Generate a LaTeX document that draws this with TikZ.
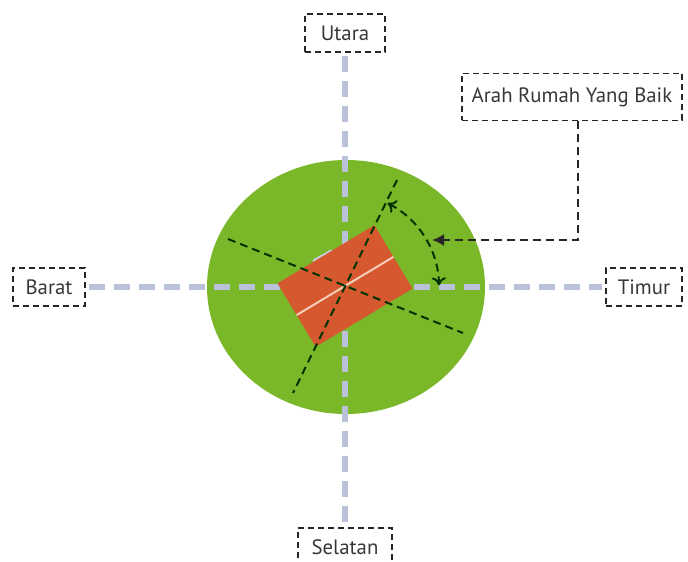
\documentclass[tikz,border=0pt]{standalone}
\usepackage{fontspec}
\setmainfont{PT Sans}
\usetikzlibrary{arrows.meta}

\definecolor{lawn}{RGB}{122,184,42}
\definecolor{roof}{RGB}{214,88,46}
\definecolor{axisblue}{RGB}{186,194,218}
\definecolor{ridge}{RGB}{244,204,184}
\definecolor{labelgray}{RGB}{55,55,55}

\tikzset{
  compass/.style={draw=black!85, dash pattern=on 3pt off 2pt, line width=0.8pt,
    text=labelgray, inner sep=0pt, minimum height=19pt,
    font=\fontsize{10.4}{12}\selectfont},
  axisline/.style={axisblue, line width=2.6pt, dash pattern=on 8pt off 4.5pt},
  guide/.style={black!80!green, line width=1pt, dash pattern=on 4pt off 2.5pt},
}

\begin{document}
\begin{tikzpicture}[x=0.5pt, y=-0.5pt]
\useasboundingbox (0,0) rectangle (688,561);
\clip (0,0) rectangle (688,561);

% ── Compass labels ─────────────────────────────────────────────
\node[compass, minimum width=40pt] (utara)   at (345,33)  {Utara};
\node[compass, minimum width=47pt] (selatan) at (345,547) {Selatan};
\node[compass, minimum width=36pt] (barat)   at (49,287)  {Barat};
\node[compass, minimum width=38pt] (timur)   at (644,287) {Timur};
\node[compass, minimum width=110pt, minimum height=23.5pt] (arah) at (572,97)
  {Arah Rumah Yang Baik};

% ── Plot (green ellipse) ───────────────────────────────────────
\fill[lawn] (346,287) ellipse[x radius=139, y radius=127];

% ── Axes ──────────────────────────────────────────────────────
\draw[axisline] ([yshift=-1.5pt]utara.south) -- ([yshift=2pt]selatan.north);
\draw[axisline] ([xshift=1.5pt]barat.east) -- ([xshift=-1.5pt]timur.west);
\draw[axisblue!80!white, line width=2.2pt, line cap=round] (315,261) -- (331,252);

% ── House (rotated by 31 deg) ──────────────────────────────────
\begin{scope}[rotate around={31:(345,286)}]
  \fill[roof] (288.5,249) rectangle (401.5,323);
  \draw[ridge, line width=1pt] (288.5,286) -- (401.5,286);
\end{scope}

% ── Guide lines through the centre ─────────────────────────────
\coordinate (c) at (345,287);
\draw[guide] (228,239) -- (463,333);
\draw[guide] (397,180) -- (293,393);

% ── Angle arc and pointer ──────────────────────────────────────
\draw[guide, {To[length=4pt,width=7pt]}-{To[length=4pt,width=7pt]}]
  (c) ++(-63:94) arc[start angle=-63, end angle=-1, radius=94];
\coordinate (hook) at (432,240);
\draw[guide, black!85, -{Latex[length=6pt,width=6pt]}]
  ([xshift=3pt]arah.south) |- (hook);

\end{tikzpicture}
\end{document}
